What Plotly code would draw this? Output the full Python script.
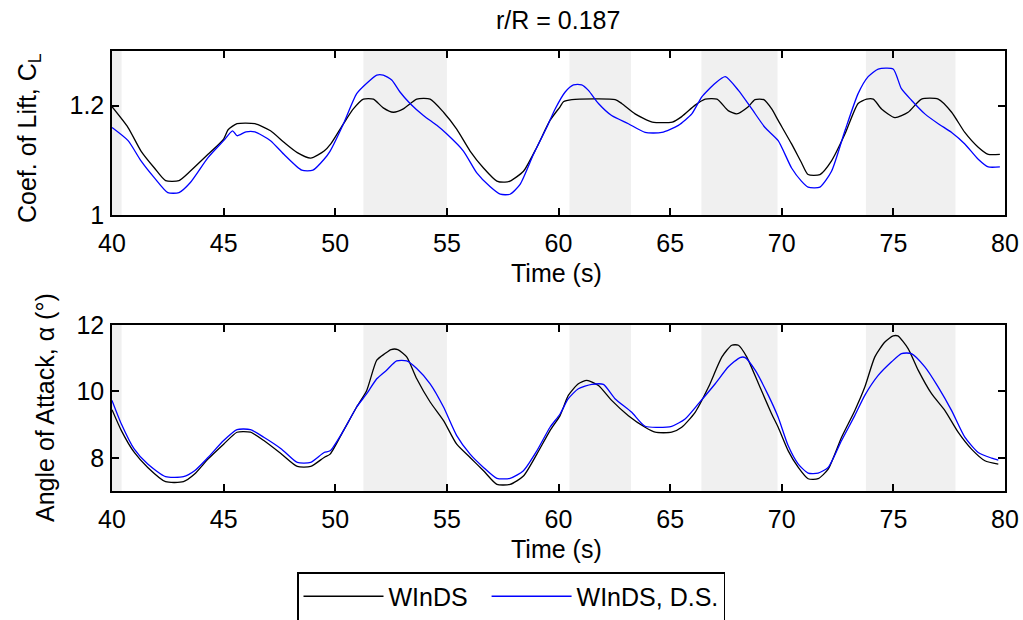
import plotly.graph_objects as go

# ---------------- data ----------------
t_cl_winds = [40.0, 40.72, 41.3, 41.9, 42.4, 43.0, 43.5, 44.3, 45.0, 45.2, 45.6, 46.4, 47.1, 47.7,
              48.3, 48.9, 49.5, 49.8, 50.37, 50.81, 51.26, 51.71, 52.15, 52.6, 53.05, 53.65, 54.25,
              54.85, 55.44, 56.04, 56.64, 57.24, 57.6, 57.83, 58.43, 59.03, 59.62, 60.07, 60.22,
              60.6, 62.54, 62.83, 63.43, 64.2, 65.1, 65.52, 66.12, 66.57, 67.1, 67.6, 67.98, 68.5,
              68.8, 69.2, 69.55, 69.84, 70.44, 70.88, 71.18, 71.71, 72.23, 72.83, 73.42, 73.8, 74.1,
              74.47, 75.07, 75.66, 76.26, 77.01, 77.61, 78.2, 78.8, 79.25, 79.77]
cl_winds = [1.198, 1.160, 1.117, 1.086, 1.063, 1.063, 1.080, 1.111, 1.139, 1.156, 1.167, 1.167, 1.154,
            1.133, 1.114, 1.104, 1.117, 1.130, 1.167, 1.194, 1.212, 1.212, 1.196, 1.188, 1.194, 1.212,
            1.212, 1.188, 1.157, 1.117, 1.086, 1.062, 1.060, 1.062, 1.080, 1.124, 1.173, 1.198, 1.207,
            1.211, 1.211, 1.204, 1.185, 1.170, 1.170, 1.180, 1.201, 1.212, 1.212, 1.191, 1.185, 1.198,
            1.211, 1.211, 1.194, 1.173, 1.130, 1.096, 1.074, 1.074, 1.099, 1.148, 1.204, 1.212, 1.212,
            1.194, 1.178, 1.188, 1.212, 1.212, 1.188, 1.151, 1.124, 1.111, 1.111]

t_cl_ds = [40.0, 40.72, 41.3, 41.9, 42.5, 43.0, 43.5, 44.3, 45.0, 45.4, 45.6, 46.0, 46.4, 47.1, 47.7,
           48.5, 49.0, 49.5, 49.77, 50.37, 50.96, 51.41, 51.86, 52.15, 52.53, 52.9, 53.35, 53.95,
           54.55, 55.0, 55.74, 56.34, 56.93, 57.39, 57.83, 58.28, 58.88, 59.47, 59.85, 60.3, 60.67,
           61.04, 61.34, 61.79, 62.38, 63.13, 63.88, 64.63, 65.37, 65.97, 66.42, 67.02, 67.47, 68.06,
           68.66, 69.25, 69.84, 70.44, 70.88, 71.18, 71.71, 72.23, 72.83, 73.42, 73.87, 74.32, 74.99,
           75.36, 75.81, 76.41, 77.01, 77.61, 78.2, 78.8, 79.25, 79.77]
cl_ds = [1.160, 1.136, 1.099, 1.068, 1.041, 1.041, 1.059, 1.105, 1.136, 1.154, 1.145, 1.152, 1.152,
         1.136, 1.111, 1.082, 1.082, 1.102, 1.117, 1.167, 1.222, 1.241, 1.256, 1.256, 1.247, 1.225,
         1.204, 1.182, 1.164, 1.148, 1.117, 1.077, 1.052, 1.038, 1.038, 1.056, 1.111, 1.160, 1.194,
         1.225, 1.238, 1.238, 1.228, 1.204, 1.182, 1.167, 1.151, 1.151, 1.164, 1.185, 1.216, 1.241,
         1.253, 1.228, 1.194, 1.160, 1.136, 1.086, 1.062, 1.051, 1.051, 1.080, 1.154, 1.222, 1.253,
         1.267, 1.267, 1.231, 1.210, 1.185, 1.167, 1.151, 1.130, 1.102, 1.088, 1.088]

t_aoa_winds = [40.0, 40.42, 41.0, 41.6, 42.4, 43.2, 43.7, 44.3, 45.0, 45.6, 46.2, 46.8, 47.6, 48.3,
               48.9, 49.5, 49.77, 50.37, 50.96, 51.41, 51.86, 52.23, 52.5, 52.8, 53.2, 53.65, 54.25,
               54.85, 55.44, 56.04, 56.64, 57.24, 57.83, 58.43, 59.03, 59.62, 60.07, 60.44, 60.89,
               61.27, 61.79, 62.38, 63.13, 63.88, 64.33, 65.07, 65.52, 66.12, 66.72, 67.32, 67.76,
               68.06, 68.43, 68.96, 69.55, 69.84, 70.29, 70.74, 71.18, 71.63, 72.08, 72.68, 73.27,
               73.72, 74.17, 74.62, 74.99, 75.2, 75.66, 76.11, 76.71, 77.31, 77.9, 78.5, 79.1, 79.7]
aoa_winds = [9.45, 8.82, 8.16, 7.71, 7.28, 7.28, 7.51, 7.96, 8.41, 8.77, 8.77, 8.52, 8.11, 7.74,
             7.74, 8.01, 8.11, 8.82, 9.53, 10.03, 10.94, 11.14, 11.26, 11.26, 11.04, 10.38, 9.68,
             9.12, 8.41, 8.01, 7.61, 7.20, 7.20, 7.45, 8.11, 8.82, 9.27, 9.88, 10.23, 10.33, 10.18,
             9.73, 9.27, 8.92, 8.77, 8.77, 8.92, 9.37, 10.13, 11.04, 11.39, 11.39, 11.04, 10.23,
             9.32, 8.92, 8.21, 7.71, 7.37, 7.37, 7.66, 8.62, 9.42, 10.13, 11.04, 11.49, 11.67,
             11.67, 11.29, 10.64, 9.93, 9.42, 8.77, 8.26, 7.91, 7.81]

t_aoa_ds = [40.0, 40.42, 41.0, 41.6, 42.4, 43.2, 43.7, 44.3, 45.0, 45.6, 46.2, 46.8, 47.6, 48.3,
            48.9, 49.5, 49.77, 50.37, 50.96, 51.41, 51.86, 52.3, 52.75, 53.2, 53.65, 54.25, 54.85,
            55.44, 56.04, 56.64, 57.24, 57.83, 58.43, 59.03, 59.62, 60.07, 60.44, 60.89, 61.49,
            62.01, 62.53, 63.28, 63.88, 65.07, 65.67, 66.27, 67.02, 67.61, 68.13, 68.36, 68.81,
            69.4, 69.84, 70.29, 70.74, 71.18, 71.63, 72.08, 72.68, 73.27, 73.72, 74.32, 74.92,
            75.36, 75.81, 76.41, 77.01, 77.61, 78.2, 78.8, 79.4, 79.7]
aoa_ds = [9.73, 9.02, 8.26, 7.81, 7.43, 7.43, 7.61, 8.01, 8.52, 8.85, 8.85, 8.62, 8.26, 7.86,
          7.86, 8.16, 8.21, 8.82, 9.53, 9.93, 10.38, 10.64, 10.92, 10.92, 10.69, 10.23, 9.53,
          8.67, 8.11, 7.71, 7.38, 7.38, 7.61, 8.21, 8.92, 9.32, 9.78, 10.08, 10.21, 10.21, 9.78,
          9.37, 8.95, 8.95, 9.17, 9.63, 10.23, 10.74, 11.02, 11.02, 10.64, 9.88, 9.22, 8.36, 7.81,
          7.54, 7.54, 7.71, 8.52, 9.27, 9.88, 10.48, 10.89, 11.14, 11.14, 10.74, 10.13, 9.42,
          8.62, 8.16, 7.99, 7.93]

shade_start = [40.0, 51.26, 60.49, 66.40, 73.77]
shade_end = [40.43, 55.0, 63.25, 69.81, 77.78]

x_ticks = [40, 45, 50, 55, 60, 65, 70, 75, 80]
cl_ticks = [1, 1.2]
cl_tick_text = ["1", "1.2"]
aoa_ticks = [8, 10, 12]

series_names = ["WInDS", "WInDS, D.S."]
series_colors = ["#000000", "#0000ff"]

# ---------------- figure ----------------
W, H = 1023, 620
FONT = "Liberation Sans, Arial, sans-serif"
FS = 25
NB = "\u00a0"


def px_x(p):
    return p / W


def px_y(p):
    return 1 - p / H


fig = go.Figure()
line_style = dict(width=1.3, shape="spline", smoothing=0.6)

fig.add_trace(go.Scatter(x=t_cl_winds, y=cl_winds, mode="lines", name=series_names[0] + NB * 2,
                         line=dict(color=series_colors[0], **line_style), xaxis="x", yaxis="y",
                         legendgroup="a"))
fig.add_trace(go.Scatter(x=t_cl_ds, y=cl_ds, mode="lines", name=series_names[1],
                         line=dict(color=series_colors[1], **line_style), xaxis="x", yaxis="y",
                         legendgroup="b"))
fig.add_trace(go.Scatter(x=t_aoa_winds, y=aoa_winds, mode="lines", name=series_names[0],
                         line=dict(color=series_colors[0], **line_style), xaxis="x2", yaxis="y2",
                         showlegend=False, legendgroup="a"))
fig.add_trace(go.Scatter(x=t_aoa_ds, y=aoa_ds, mode="lines", name=series_names[1],
                         line=dict(color=series_colors[1], **line_style), xaxis="x2", yaxis="y2",
                         showlegend=False, legendgroup="b"))

shapes = []
for xr, yr in (("x", "y domain"), ("x2", "y2 domain")):
    for s, e in zip(shade_start, shade_end):
        shapes.append(dict(type="rect", xref=xr, yref=yr, x0=s, x1=e, y0=0, y1=1,
                           fillcolor="#f0f0f0", line=dict(width=0), layer="below"))

axis_common = dict(showline=True, linecolor="black", linewidth=1.5, mirror="ticks",
                   ticks="inside", ticklen=7, tickwidth=1.5, tickcolor="black",
                   showgrid=False, zeroline=False,
                   tickfont=dict(family=FONT, size=FS, color="black"))

xdom = [px_x(112), px_x(1005)]
fig.update_layout(
    width=W, height=H,
    margin=dict(l=0, r=0, t=0, b=0, autoexpand=False),
    paper_bgcolor="white", plot_bgcolor="white",
    font=dict(family=FONT, size=FS, color="black"),
    shapes=shapes,
    xaxis=dict(domain=xdom, range=[40, 80], tickvals=x_ticks, anchor="y",
               ticklabelstandoff=5, **axis_common),
    yaxis=dict(domain=[px_y(215), px_y(51)], range=[1, 1.3], tickvals=cl_ticks,
               ticktext=cl_tick_text, anchor="x", ticklabelstandoff=1, **axis_common),
    xaxis2=dict(domain=xdom, range=[40, 80], tickvals=x_ticks, anchor="y2",
                ticklabelstandoff=5, **axis_common),
    yaxis2=dict(domain=[px_y(491), px_y(325)], range=[7, 12], tickvals=aoa_ticks,
                anchor="x2", ticklabelstandoff=1, **axis_common),
    showlegend=True,
    legend=dict(orientation="h", x=px_x(511), xanchor="center", y=px_y(572), yanchor="top",
                bordercolor="black", borderwidth=1.5, bgcolor="white",
                font=dict(family=FONT, size=FS, color="black"), itemwidth=80,
                traceorder="normal"),
    annotations=[
        dict(text="r/R = 0.187", x=px_x(558), y=px_y(20), xref="paper", yref="paper",
             showarrow=False, xanchor="center", yanchor="middle"),
        dict(text="Time (s)", x=px_x(556), y=px_y(273), xref="paper", yref="paper",
             showarrow=False, xanchor="center", yanchor="middle"),
        dict(text="Time (s)", x=px_x(556), y=px_y(549), xref="paper", yref="paper",
             showarrow=False, xanchor="center", yanchor="middle"),
        dict(text="Coef. of Lift, C<sub>L</sub>", x=px_x(29), y=px_y(138), xref="paper",
             yref="paper", showarrow=False, textangle=-90, xanchor="center", yanchor="middle"),
        dict(text="Angle of Attack, α (°)", x=px_x(45), y=px_y(408), xref="paper",
             yref="paper", showarrow=False, textangle=-90, xanchor="center", yanchor="middle"),
    ],
)

fig.write_html("out.html")
